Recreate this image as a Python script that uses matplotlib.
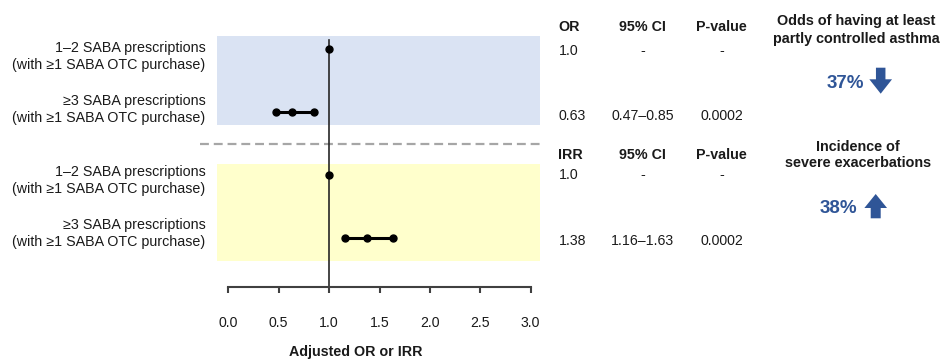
import numpy as np
import matplotlib
matplotlib.use("Agg")
import matplotlib.pyplot as plt
from matplotlib.patches import FancyArrow

plt.rcParams['font.family'] = ['Liberation Sans', 'DejaVu Sans']

# data
row_labels = ["1\u20132 SABA prescriptions\n(with \u22651 SABA OTC purchase)",
              "\u22653 SABA prescriptions\n(with \u22651 SABA OTC purchase)",
              "1\u20132 SABA prescriptions\n(with \u22651 SABA OTC purchase)",
              "\u22653 SABA prescriptions\n(with \u22651 SABA OTC purchase)"]
estimates = [1.0, 0.63, 1.0, 1.38]
ci_low = [np.nan, 0.47, np.nan, 1.16]
ci_high = [np.nan, 0.85, np.nan, 1.63]

or_header = ["OR", "95% CI", "P-value"]
or_rows = [["1.0", "-", "-"], ["0.63", "0.47\u20130.85", "0.0002"]]
irr_header = ["IRR", "95% CI", "P-value"]
irr_rows = [["1.0", "-", "-"], ["1.38", "1.16\u20131.63", "0.0002"]]

asthma_title = "Odds of having at least\npartly controlled asthma"
asthma_change = "37%"
exac_title = "Incidence of\nsevere exacerbations"
exac_change = "38%"
xticks = [0.0, 0.5, 1.0, 1.5, 2.0, 2.5, 3.0]
xlabel = "Adjusted OR or IRR"

# colours
txt = "#1a1a1a"
blue = "#2F5597"

W, H = 941, 360
fig = plt.figure(figsize=(W / 100, H / 100), dpi=100)

ax = fig.add_axes([228.3 / W, (H - 287) / H, 302.4 / W, 257 / H])
ax.patch.set_visible(False)
ax.set_xlim(0, 3)
row_step = 63.2
y_top_px = 48.7
ax.set_ylim((287 - y_top_px) / row_step, (30 - y_top_px) / row_step)

rows = np.arange(len(estimates))

# background bands
ax.fill_between([-0.115, 3.09], -0.206, 1.207, color="#DAE3F3", lw=0, zorder=0, clip_on=False)
ax.fill_between([-0.115, 3.09], 1.824, 3.359, color="#FFFFCC", lw=0, zorder=0, clip_on=False)
ax.plot([-0.277, 3.13], [1.508, 1.508], color="#A6A6A6", lw=1.6, ls=(0, (4, 2.2)), clip_on=False, zorder=1)

# reference line
ax.plot([1, 1], [-0.14, ax.get_ylim()[0]], color="#262626", lw=1.2, zorder=2)

for i in rows:
    if not np.isnan(ci_low[i]):
        ax.plot([ci_low[i], ci_high[i]], [i, i], color="black", lw=2.2, zorder=3)
        ax.plot([ci_low[i], estimates[i], ci_high[i]], [i, i, i], "o", color="black", ms=5, zorder=4)
    else:
        ax.plot(estimates[i], i, "o", color="black", ms=5, zorder=4)

for s in ["left", "top", "right"]:
    ax.spines[s].set_visible(False)
ax.spines["bottom"].set_color("#404040")
ax.spines["bottom"].set_linewidth(1.5)
ax.set_yticks([])
ax.set_xticks(xticks)
ax.set_xticklabels([f"{t:.1f}" for t in xticks])
ax.tick_params(axis="x", length=4, width=1.5, color="#404040", pad=17, labelsize=10.2, labelcolor=txt)

# overlay in pixel coordinates
ov = fig.add_axes([0, 0, 1, 1])
ov.set_xlim(0, W)
ov.set_ylim(H, 0)
ov.axis("off")

label_y = [56.7, 109.7, 180.5, 233.3]
for lab, ly in zip(row_labels, label_y):
    ov.text(205.7, ly, lab, ha="right", va="center", fontsize=10.25, color=txt, linespacing=1.22)

col_x = [558.5, 642.7, 721.7]
col_ha = ["left", "center", "center"]
table_y = [(27.3, [50.7, 116.0]), (155.0, [175.0, 241.0])]
for (hy, vys), header, body in zip(table_y, [or_header, irr_header], [or_rows, irr_rows]):
    for x, ha, h in zip(col_x, col_ha, header):
        ov.text(x, hy, h, ha=ha, va="center", fontsize=10.3, fontweight="bold", color=txt)
    for vy, vals in zip(vys, body):
        for x, ha, v in zip(col_x, col_ha, vals):
            ov.text(x, vy, v, ha=ha, va="center", fontsize=10.2, color=txt)

ov.text(856, 30, asthma_title, ha="center", va="center", fontsize=10.4, fontweight="bold",
        color=txt, linespacing=1.3)
ov.text(858, 154.7, exac_title, ha="center", va="center", fontsize=10.4, fontweight="bold",
        color=txt, linespacing=1.2)
ov.text(845.3, 83, asthma_change, ha="center", va="center", fontsize=13.5, fontweight="bold", color=blue)
ov.text(838.7, 208.5, exac_change, ha="center", va="center", fontsize=13.5, fontweight="bold", color=blue)
ov.add_patch(FancyArrow(880.7, 67.7, 0, 26, width=9.5, head_width=22.7, head_length=14.4,
                        length_includes_head=True, color=blue, lw=0))
ov.add_patch(FancyArrow(875.7, 218.3, 0, -24.3, width=10, head_width=22.7, head_length=14,
                        length_includes_head=True, color=blue, lw=0))

ov.text(355.5, 351.7, xlabel, ha="center", va="center", fontsize=10.3, fontweight="bold", color=txt)

fig.savefig("out.png", dpi=100)
